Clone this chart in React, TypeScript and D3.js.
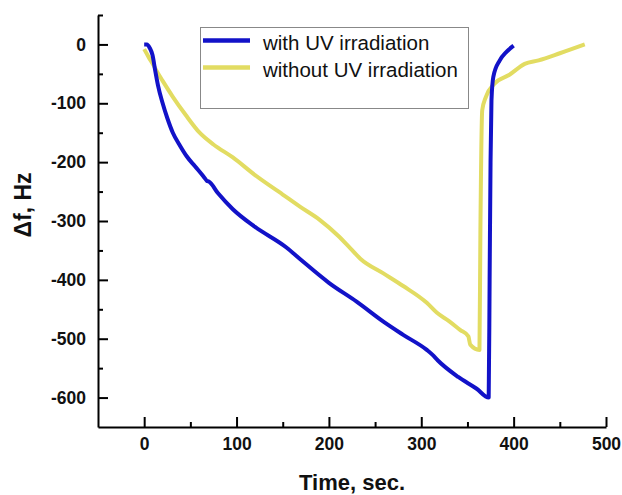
import React, { useRef, useEffect } from 'react';
import * as d3 from 'd3';

// with UV irradiation
const tWith = [0, 3, 6, 9, 12, 15, 20, 25, 31, 38, 46, 55, 64, 66, 68, 70, 80, 96, 120, 154, 169, 200, 230, 259, 280, 306, 312, 318, 340, 360, 373, 374, 375, 376, 378, 385, 392, 400];
const fWith = [0, 0, -6, -18, -45, -70, -100, -125, -150, -170, -190, -207, -224, -228, -232, -233, -253, -280, -310, -345, -365, -405, -437, -471, -493, -519, -527, -537, -565, -585, -600, -400, -200, -95, -55, -27, -13, -2];

// without UV irradiation
const tWithout = [0, 5, 10, 13, 20, 31, 45, 60, 75, 96, 120, 150, 169, 190, 210, 223, 234, 259, 280, 306, 317, 330, 342, 351, 353, 363, 364, 366, 370, 379, 395, 412, 427, 450, 477];
const fWithout = [-8, -22, -35, -44, -62, -89, -120, -150, -170, -192, -222, -255, -276, -298, -325, -346, -364, -389, -410, -439, -456, -470, -485, -496, -510, -519, -321, -112, -89, -67, -52, -33, -27, -15, 0];

const seriesNames = ['with UV irradiation', 'without UV irradiation'];
const xTicks = [0, 100, 200, 300, 400, 500];
const yTicks = [0, -100, -200, -300, -400, -500, -600];

const FONT = '"Liberation Sans", Arial, sans-serif';

const App = () => {
  const svgRef = useRef(null);
  const width = 622;
  const height = 495;

  useEffect(() => {
    const svg = d3.select(svgRef.current);
    svg.selectAll('*').remove();

    const x = d3.scaleLinear().domain([-50, 500]).range([98, 606]);
    const y = d3.scaleLinear().domain([-650, 50]).range([427, 15]);

    const colors = ['#1212c8', '#e2dc62'];
    const plain = d => String(d); // hyphen minus, like the original

    // x axis
    const xAxis = svg.append('g')
      .attr('transform', `translate(0, ${y(-650)})`)
      .call(d3.axisBottom(x).tickValues(xTicks).tickFormat(plain).tickSizeInner(-10).tickSizeOuter(0).tickPadding(11));
    svg.append('g')
      .attr('transform', `translate(0, ${y(-650)})`)
      .call(d3.axisBottom(x).tickValues([50, 150, 250, 350, 450]).tickSizeInner(-5).tickSizeOuter(0).tickFormat(() => ''))
      .select('.domain').remove();

    // y axis
    const yAxis = svg.append('g')
      .attr('transform', `translate(${x(-50)}, 0)`)
      .call(d3.axisLeft(y).tickValues(yTicks).tickFormat(plain).tickSizeInner(-10).tickSizeOuter(0).tickPadding(12));
    svg.append('g')
      .attr('transform', `translate(${x(-50)}, 0)`)
      .call(d3.axisLeft(y).tickValues([50, -50, -150, -250, -350, -450, -550]).tickSizeInner(-5).tickSizeOuter(0).tickFormat(() => ''))
      .select('.domain').remove();

    svg.selectAll('.tick line, .domain')
      .attr('stroke', '#000')
      .attr('stroke-width', 2);

    [xAxis, yAxis].forEach(a => a.selectAll('text')
      .attr('font-family', FONT)
      .attr('font-weight', 'bold')
      .attr('font-size', 17.5)
      .attr('fill', '#111'));

    // lines
    const line = d3.line().x(d => x(d[0])).y(d => y(d[1])).curve(d3.curveMonotoneX);
    const dataWithout = tWithout.map((t, i) => [t, fWithout[i]]);
    const dataWith = tWith.map((t, i) => [t, fWith[i]]);

    svg.append('path')
      .datum(dataWithout)
      .attr('d', line)
      .attr('fill', 'none')
      .attr('stroke', colors[1])
      .attr('stroke-width', 4)
      .attr('stroke-linejoin', 'round');

    svg.append('path')
      .datum(dataWith)
      .attr('d', line)
      .attr('fill', 'none')
      .attr('stroke', colors[0])
      .attr('stroke-width', 4)
      .attr('stroke-linejoin', 'round');

    // axis titles
    svg.append('text')
      .attr('x', (x(-50) + x(500)) / 2)
      .attr('y', 490)
      .attr('text-anchor', 'middle')
      .attr('font-family', FONT)
      .attr('font-weight', 'bold')
      .attr('font-size', 22)
      .attr('fill', '#111')
      .text('Time, sec.');

    svg.append('text')
      .attr('transform', 'translate(31, 205) rotate(-90)')
      .attr('text-anchor', 'middle')
      .attr('font-family', FONT)
      .attr('font-weight', 'bold')
      .attr('font-size', 23)
      .attr('fill', '#111')
      .text('Δf, Hz');

    // legend
    const legend = svg.append('g');
    legend.append('rect')
      .attr('x', 200.5)
      .attr('y', 27.5)
      .attr('width', 268)
      .attr('height', 81)
      .attr('fill', '#fff')
      .attr('stroke', '#888')
      .attr('stroke-width', 1);

    seriesNames.forEach((name, i) => {
      const ly = 40.5 + i * 27;
      legend.append('line')
        .attr('x1', 203)
        .attr('x2', 250)
        .attr('y1', ly)
        .attr('y2', ly)
        .attr('stroke', colors[i])
        .attr('stroke-width', 4.5);
      legend.append('text')
        .attr('x', 263)
        .attr('y', ly + 9.5)
        .attr('font-family', FONT)
        .attr('font-size', 20.5)
        .attr('fill', '#111')
        .text(name);
    });
  }, []);

  return (
    <svg
      ref={svgRef}
      width={width}
      height={height}
      style={{ position: 'absolute', top: 0, left: 0, background: '#fff' }}
    />
  );
};

export default App;
